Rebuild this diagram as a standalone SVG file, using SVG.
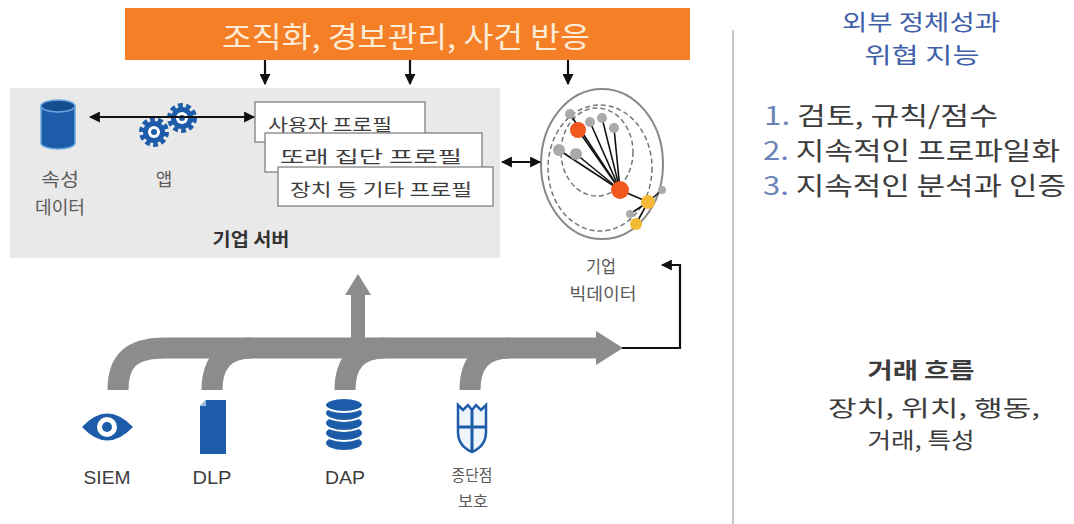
<svg xmlns="http://www.w3.org/2000/svg" width="1074" height="524" viewBox="0 0 1074 524">
  <style>
    .kr { font-family: 'Noto Sans CJK KR', 'Liberation Sans', sans-serif; }
    .lat { font-family: 'Liberation Sans', 'Noto Sans CJK KR', sans-serif; }
    .gray { fill: #5a5a5a; }
    .dark { fill: #3c3c3c; }
    .num { fill: #6a84b8; }
    .conn { stroke: #111; stroke-width: 2.2; fill: none; }
    .flow { stroke: #8c8c8c; fill: none; stroke-width: 21; }
    .blue { fill: #1d5ca8; }
    .box { fill: #fff; stroke: #777; stroke-width: 1.2; }
  </style>
  <defs>
    <marker id="ah" viewBox="0 0 10 10" refX="9" refY="5" markerWidth="5" markerHeight="5" orient="auto-start-reverse">
      <path d="M0,0 L10,5 L0,10 z" fill="#111"/>
    </marker>
  </defs>

  <rect width="1074" height="524" fill="#fff"/>

  <!-- orange banner -->
  <g id="banner">
    <rect x="125" y="8" width="565" height="52" fill="#f47f27"/>
    <text class="kr" x="406" y="48" text-anchor="middle" font-size="29" fill="#fdecd6" textLength="368" lengthAdjust="spacingAndGlyphs">조직화, 경보관리, 사건 반응</text>
  </g>

  <!-- enterprise server panel -->
  <g id="server">
    <rect x="10" y="88" width="490" height="170" fill="#e9e9e9"/>
    <text class="kr" x="251" y="246" text-anchor="middle" font-size="18" font-weight="bold" fill="#333" textLength="77" lengthAdjust="spacingAndGlyphs">기업 서버</text>
  </g>

  <!-- attribute data cylinder -->
  <g id="attr-data">
    <path d="M41,106 V143 A17,6 0 0 0 75,143 V106 Z" fill="#1d5ca8" stroke="#6aa6e0" stroke-width="1.5"/>
    <ellipse cx="58" cy="106" rx="17" ry="6" fill="#164d91" stroke="#6aa6e0" stroke-width="1.5"/>
    <text class="kr gray" x="60" y="186" text-anchor="middle" font-size="18" textLength="38" lengthAdjust="spacingAndGlyphs">속성</text>
    <text class="kr gray" x="60" y="214" text-anchor="middle" font-size="18" textLength="50" lengthAdjust="spacingAndGlyphs">데이터</text>
  </g>

  <!-- apps (gears) -->
  <g id="apps">
    <g transform="translate(154,132)">
      <circle r="12" fill="none" stroke="#1d5ca8" stroke-width="6" stroke-dasharray="4.5 3"/>
      <circle r="11" class="blue"/>
      <circle r="6" fill="#fff"/>
      <circle r="3" class="blue"/>
    </g>
    <g transform="translate(182,118)">
      <circle r="12" fill="none" stroke="#1d5ca8" stroke-width="6" stroke-dasharray="4.5 3"/>
      <circle r="11" class="blue"/>
      <circle r="6" fill="#fff"/>
      <circle r="3" class="blue"/>
    </g>
    <text class="kr gray" x="164" y="186" text-anchor="middle" font-size="18">앱</text>
  </g>

  <!-- profile cards -->
  <g id="profile-user">
    <rect class="box" x="255" y="102" width="170" height="40"/>
    <text class="kr dark" x="268" y="131" font-size="17" textLength="124" lengthAdjust="spacingAndGlyphs">사용자 프로필</text>
  </g>
  <g id="profile-peer">
    <rect class="box" x="265" y="133" width="217" height="39"/>
    <text class="kr dark" x="280" y="163" font-size="17" textLength="182" lengthAdjust="spacingAndGlyphs">또래 집단 프로필</text>
  </g>
  <g id="profile-device">
    <rect class="box" x="278" y="167" width="215" height="39"/>
    <text class="kr dark" x="290" y="196" font-size="17" textLength="182" lengthAdjust="spacingAndGlyphs">장치 등 기타 프로필</text>
  </g>

  <!-- enterprise big data -->
  <g id="bigdata">
    <ellipse cx="602" cy="164" rx="61" ry="75" fill="#fff" stroke="#888" stroke-width="2"/>
    <ellipse cx="600" cy="168" rx="52" ry="63" fill="none" stroke="#777" stroke-width="1.5" stroke-dasharray="5 3"/>
    <ellipse cx="597" cy="152" rx="36" ry="44" fill="none" stroke="#777" stroke-width="1.5" stroke-dasharray="5 3"/>
    <g stroke="#111" stroke-width="1.6">
      <line x1="620" y1="190" x2="570" y2="114"/>
      <line x1="620" y1="190" x2="578" y2="130"/>
      <line x1="620" y1="190" x2="590" y2="122"/>
      <line x1="620" y1="190" x2="602" y2="118"/>
      <line x1="620" y1="190" x2="614" y2="128"/>
      <line x1="620" y1="190" x2="559" y2="150"/>
      <line x1="620" y1="190" x2="576" y2="154"/>
      <line x1="620" y1="190" x2="648" y2="202"/>
      <line x1="648" y1="202" x2="662" y2="190"/>
      <line x1="648" y1="202" x2="636" y2="224"/>
      <line x1="648" y1="202" x2="630" y2="214"/>
    </g>
    <g fill="#aaa">
      <circle cx="570" cy="114" r="5"/>
      <circle cx="590" cy="122" r="5"/>
      <circle cx="602" cy="118" r="5"/>
      <circle cx="614" cy="128" r="5"/>
      <circle cx="559" cy="150" r="6"/>
      <circle cx="576" cy="154" r="6"/>
      <circle cx="662" cy="190" r="4"/>
      <circle cx="630" cy="214" r="4"/>
    </g>
    <circle cx="578" cy="130" r="8" fill="#f0581e"/>
    <circle cx="620" cy="190" r="9" fill="#f0581e"/>
    <circle cx="648" cy="202" r="7" fill="#f4b935"/>
    <circle cx="636" cy="224" r="6" fill="#f4b935"/>
    <text class="kr gray" x="601" y="273" text-anchor="middle" font-size="17" textLength="30" lengthAdjust="spacingAndGlyphs">기업</text>
    <text class="kr gray" x="603" y="300" text-anchor="middle" font-size="17" textLength="67" lengthAdjust="spacingAndGlyphs">빅데이터</text>
  </g>

  <!-- data sources -->
  <g id="siem">
    <path d="M82,427 Q107,400 133,427 Q107,454 82,427 Z" fill="#1d5ca8"/>
    <circle cx="107" cy="427" r="10" fill="#fff"/>
    <circle cx="107" cy="427" r="5" class="blue"/>
    <text class="lat dark" x="107" y="484" text-anchor="middle" font-size="19" textLength="47" lengthAdjust="spacingAndGlyphs">SIEM</text>
  </g>
  <g id="dlp">
    <path d="M206,400 H226 V454 H200 V406 Z" fill="#1d5ca8"/>
    <path d="M200,406 L206,400 V406 Z" fill="#9bbbe0"/>
    <text class="lat dark" x="212" y="484" text-anchor="middle" font-size="19" textLength="39" lengthAdjust="spacingAndGlyphs">DLP</text>
  </g>
  <g id="dap">
    <g fill="#1d5ca8" stroke="#fff" stroke-width="2">
      <ellipse cx="344" cy="443" rx="19" ry="8"/>
      <ellipse cx="344" cy="433" rx="19" ry="8"/>
      <ellipse cx="344" cy="423" rx="19" ry="8"/>
      <ellipse cx="344" cy="413" rx="19" ry="8"/>
      <ellipse cx="344" cy="405" rx="19" ry="7"/>
    </g>
    <text class="lat dark" x="345" y="484" text-anchor="middle" font-size="19" textLength="40" lengthAdjust="spacingAndGlyphs">DAP</text>
  </g>
  <g id="endpoint">
    <path d="M458,405 L463,410 L468,405 L472,410 L476,405 L481,410 L486,405 V432 Q486,446 472,452 Q458,446 458,432 Z" fill="#eef4fb" stroke="#1d5ca8" stroke-width="2.5"/>
    <line x1="472" y1="408" x2="472" y2="451" stroke="#1d5ca8" stroke-width="3"/>
    <line x1="458" y1="427" x2="486" y2="427" stroke="#1d5ca8" stroke-width="3"/>
    <text class="kr gray" x="472" y="481" text-anchor="middle" font-size="16" textLength="41" lengthAdjust="spacingAndGlyphs">종단점</text>
    <text class="kr gray" x="473" y="507" text-anchor="middle" font-size="16" textLength="30" lengthAdjust="spacingAndGlyphs">보호</text>
  </g>

  <!-- right column -->
  <g id="threat-intel">
    <text class="kr" x="921" y="30" text-anchor="middle" font-size="22" fill="#3f5fa8" textLength="158" lengthAdjust="spacingAndGlyphs">외부 정체성과</text>
    <text class="kr" x="922" y="63" text-anchor="middle" font-size="22" fill="#3f5fa8" textLength="115" lengthAdjust="spacingAndGlyphs">위협 지능</text>
    <text class="kr dark" x="764" y="125" font-size="25" textLength="234" lengthAdjust="spacingAndGlyphs"><tspan class="num">1.</tspan> 검토, 규칙/점수</text>
    <text class="kr dark" x="763" y="160" font-size="25" textLength="297" lengthAdjust="spacingAndGlyphs"><tspan class="num">2.</tspan> 지속적인 프로파일화</text>
    <text class="kr dark" x="763" y="195" font-size="25" textLength="303" lengthAdjust="spacingAndGlyphs"><tspan class="num">3.</tspan> 지속적인 분석과 인증</text>
  </g>
  <g id="transaction-flow">
    <text class="kr dark" x="921" y="378" text-anchor="middle" font-size="22" font-weight="bold" textLength="107" lengthAdjust="spacingAndGlyphs">거래 흐름</text>
    <text class="kr dark" x="934" y="416" text-anchor="middle" font-size="22" textLength="212" lengthAdjust="spacingAndGlyphs">장치, 위치, 행동,</text>
    <text class="kr dark" x="921" y="448" text-anchor="middle" font-size="22" textLength="107" lengthAdjust="spacingAndGlyphs">거래, 특성</text>
  </g>

  <!-- divider -->
  <line x1="733" y1="30" x2="733" y2="524" stroke="#c8c8c8" stroke-width="2"/>

  <!-- connectors -->
  <g id="connectors">
    <line class="conn" x1="265" y1="60" x2="265" y2="84" marker-end="url(#ah)"/>
    <line class="conn" x1="410" y1="60" x2="410" y2="84" marker-end="url(#ah)"/>
    <line class="conn" x1="568" y1="60" x2="568" y2="84" marker-end="url(#ah)"/>
    <line class="conn" x1="90" y1="117" x2="254" y2="117" marker-start="url(#ah)" marker-end="url(#ah)"/>
    <line class="conn" x1="502" y1="162" x2="540" y2="162" marker-start="url(#ah)" marker-end="url(#ah)"/>

    <!-- transaction flow bus -->
    <path class="flow" d="M118,390 C118,362 130,348 165,348 H598"/>
    <path class="flow" d="M212,390 C212,364 224,348 252,348"/>
    <path class="flow" d="M345,390 C345,364 357,348 385,348"/>
    <path class="flow" d="M470,390 C470,364 482,348 510,348"/>
    <polygon points="596,331 623,348 596,365" fill="#8c8c8c"/>
    <rect x="351" y="292" width="14" height="58" fill="#8c8c8c"/>
    <polygon points="345,295 358,274 371,295" fill="#8c8c8c"/>

    <!-- feed back to big data -->
    <polyline class="conn" stroke-width="1.8" points="622,348 680,348 680,265 662,265" marker-end="url(#ah)"/>
  </g>
</svg>
